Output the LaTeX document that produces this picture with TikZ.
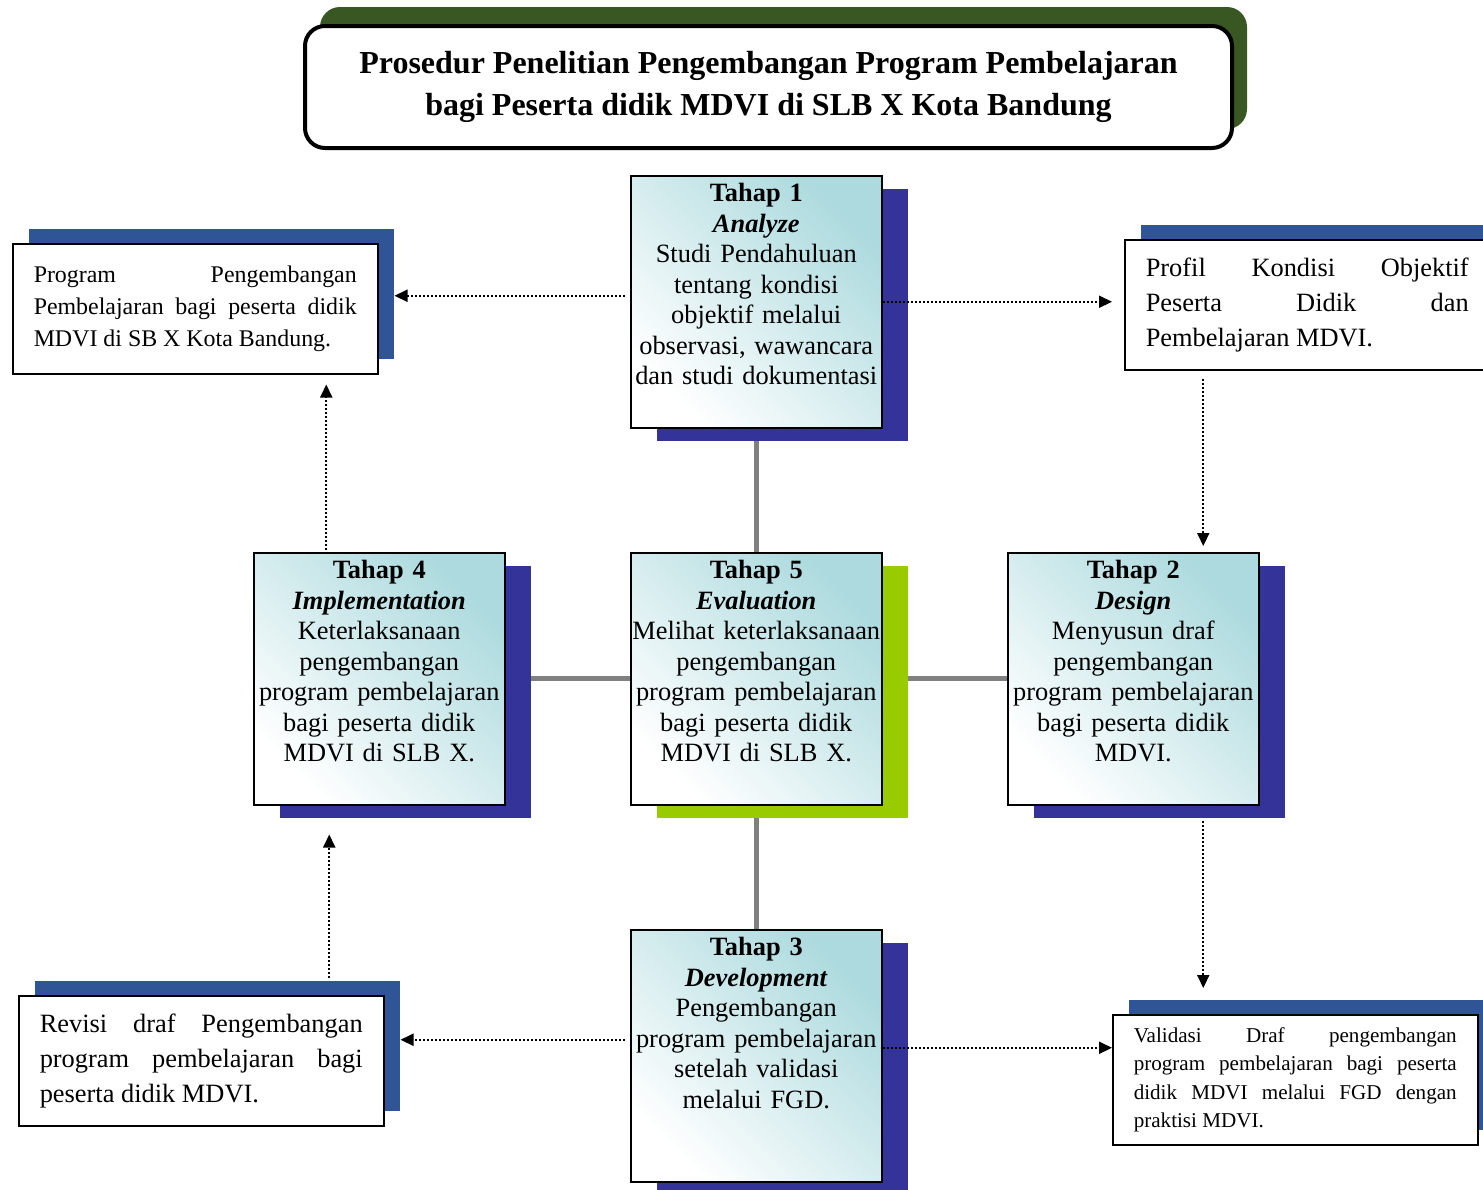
\documentclass[tikz,border=0pt]{standalone}
\usepackage{fontspec}
\setmainfont{Liberation Serif}
\usepackage{tikz}
\usetikzlibrary{positioning, arrows.meta, shadows, backgrounds}

\definecolor{titlegreen}{RGB}{56,87,35}
\definecolor{navyshadow}{RGB}{51,51,153}
\definecolor{limeshadow}{RGB}{153,204,0}
\definecolor{sideblue}{RGB}{47,85,151}
\definecolor{tealfill}{RGB}{172,218,222}
\definecolor{linkgray}{RGB}{128,128,128}

\tikzset{
  titlebox/.style={draw, line width=4pt, rounded corners=20pt, fill=white, anchor=north west,
    minimum width=927pt, minimum height=122pt, align=center,
    font=\fontsize{32}{42}\bfseries\selectfont,
    general shadow={fill=titlegreen, shadow xshift=15pt, shadow yshift=19pt}},
  tahapbox/.style={draw, line width=1.5pt, anchor=north west, minimum width=251pt, minimum height=252pt,
    top color=tealfill, bottom color=white, shading angle=-45,
    general shadow={fill=#1, shadow xshift=26pt, shadow yshift=-13pt}},
  tahapbox/.default=navyshadow,
  tahaptext/.style={anchor=north, align=center, text width=250pt, inner sep=0pt,
    font=\fontsize{26.4}{30.5}\selectfont},
  sidebox/.style={draw, line width=1.5pt, fill=white, anchor=north west, minimum width=365pt,
    minimum height=130pt, text width=323pt, inner xsep=21pt, align=justify,
    general shadow={fill=sideblue, shadow xshift=16pt, shadow yshift=15pt}},
  link/.style={draw=linkgray, line width=5pt},
  flowarrow/.style={line width=2pt, dotted, -{Triangle[length=13pt,width=12pt]}}
}

\begin{document}
\begin{tikzpicture}[x=1pt, y=-1pt]
  \useasboundingbox (0,0) rectangle (1483,1189);

  % judul
  \node[titlebox] (title) at (303,24) {Prosedur Penelitian Pengembangan Program Pembelajaran\\bagi Peserta didik MDVI di SLB X Kota Bandung};

  % tahap
  \node[tahapbox] (t1) at (630,175) {};
  \node[tahapbox] (t4) at (253,552) {};
  \node[tahapbox=limeshadow] (t5) at (630,552) {};
  \node[tahapbox] (t2) at (1007,552) {};
  \node[tahapbox] (t3) at (630,929) {};

  \node[tahaptext, below=8pt of t1.north] (t1text) {\textbf{Tahap 1}\\\textbf{\textit{Analyze}}\\Studi Pendahuluan\\tentang kondisi\\objektif melalui\\observasi, wawancara\\dan studi dokumentasi};
  \node[tahaptext, below=8pt of t4.north] (t4text) {\textbf{Tahap 4}\\\textbf{\textit{Implementation}}\\Keterlaksanaan\\pengembangan\\program pembelajaran\\bagi peserta didik\\MDVI di SLB X.};
  \node[tahaptext, below=8pt of t5.north] (t5text) {\textbf{Tahap 5}\\\textbf{\textit{Evaluation}}\\Melihat keterlaksanaan\\pengembangan\\program pembelajaran\\bagi peserta didik\\MDVI di SLB X.};
  \node[tahaptext, below=8pt of t2.north] (t2text) {\textbf{Tahap 2}\\\textbf{\textit{Design}}\\Menyusun draf\\pengembangan\\program pembelajaran\\bagi peserta didik\\MDVI.};
  \node[tahaptext, below=8pt of t3.north] (t3text) {\textbf{Tahap 3}\\\textbf{\textit{Development}}\\Pengembangan\\program pembelajaran\\setelah validasi\\melalui FGD.};

  % kotak hasil
  \node[sidebox, font=\fontsize{23.9}{32}\selectfont] (prog) at (12,243) {Program Pengembangan\linebreak Pembelajaran bagi peserta didik\linebreak MDVI di SB X Kota Bandung.\par\vspace{-12pt}};
  \node[sidebox, font=\fontsize{26.4}{35}\selectfont] (profil) at (1124,239) {Profil Kondisi Objektif\linebreak Peserta Didik dan\linebreak Pembelajaran MDVI.};
  \node[sidebox, font=\fontsize{21.1}{28.5}\selectfont] (validasi) at (1112,1014) {Validasi Draf pengembangan\linebreak program pembelajaran bagi peserta\linebreak didik MDVI melalui FGD dengan\linebreak praktisi MDVI.};
  \node[sidebox, font=\fontsize{26.4}{35}\selectfont] (revisi) at (18,995) {Revisi draf Pengembangan\linebreak program pembelajaran bagi\linebreak peserta didik MDVI.};

  % garis penghubung
  \begin{scope}[on background layer]
    \draw[link] (t1.south) -- (t5.north);
    \draw[link] (t5.south) -- (t3.north);
    \draw[link] (t4.east) -- (t5.west);
    \draw[link] (t5.east) -- (t2.west);
  \end{scope}

  % panah
  \draw[flowarrow, shorten <=5pt] ([yshift=6pt]t1.west) -- ([xshift=16pt,yshift=6pt]t1.west -| prog.east);
  \draw[flowarrow, shorten >=12pt] (t1.east) -- (t1.east -| profil.west);
  \draw[flowarrow, shorten <=8pt, shorten >=6pt] ([xshift=70pt]t2.north |- profil.south) -- ([xshift=70pt]t2.north);
  \draw[flowarrow, shorten <=15pt, shorten >=26pt] ([xshift=70pt]t2.south) -- ([xshift=70pt]t2.south |- validasi.north);
  \draw[flowarrow] ([yshift=8pt]t3.east) -- ([yshift=8pt]t3.east -| validasi.west);
  \draw[flowarrow, shorten <=5pt] ([yshift=16pt]t3.west) -- ([xshift=16pt,yshift=16pt]t3.west -| revisi.east);
  \draw[flowarrow, shorten <=17pt, shorten >=29pt] ([xshift=-50pt]t4.south |- revisi.north) -- ([xshift=-50pt]t4.south);
  \draw[flowarrow, shorten <=2pt, shorten >=10pt] ([xshift=-53pt]t4.north) -- ([xshift=-53pt]t4.north |- prog.south);
\end{tikzpicture}
\end{document}
